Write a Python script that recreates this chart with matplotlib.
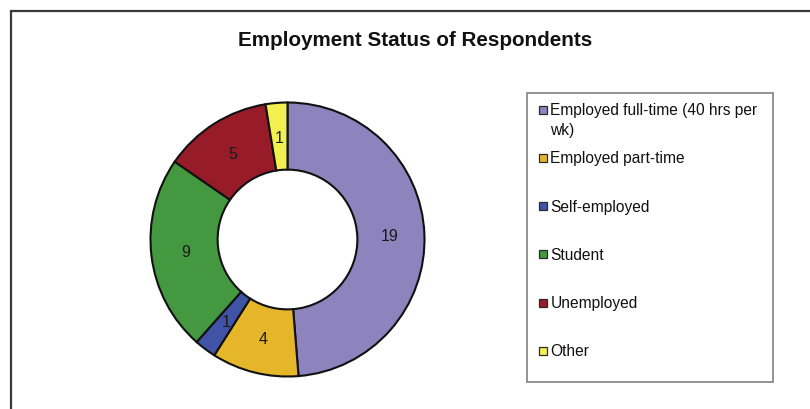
import textwrap
import matplotlib
matplotlib.use("Agg")
import matplotlib.pyplot as plt
from matplotlib.patches import Rectangle

plt.rcParams["font.family"] = ["Liberation Sans", "DejaVu Sans"]

# Survey responses
title = "Employment Status of Respondents"
categories = [
    "Employed full-time (40 hrs per wk)",
    "Employed part-time",
    "Self-employed",
    "Student",
    "Unemployed",
    "Other",
]
counts = [19, 4, 1, 9, 5, 1]
colors = ["#8D83BD", "#E6B62A", "#4153A6", "#44983F", "#981B2A", "#F2F04E"]

W, H = 810, 410
fig = plt.figure(figsize=(W / 100, H / 100), dpi=100)
fig.patch.set_facecolor("white")

# Overlay in pixel coordinates for frame, title and legend
ov = fig.add_axes([0, 0, 1, 1])
ov.set_xlim(0, W)
ov.set_ylim(H, 0)
ov.axis("off")

# Chart area frame (left and top edges visible)
ov.plot([11, 11, W + 5], [H + 5, 12, 12], color="#3a3a3a", lw=1.6,
        solid_joinstyle="miter", clip_on=False)

ov.text(415.5, 41, title, ha="center", va="center",
        fontsize=14.9, fontweight="bold", color="#111111")

# Donut
cx, cy, R = 287.5, 240.5, 137.0
ax = fig.add_axes([(cx - R) / W, (H - cy - R) / H, 2 * R / W, 2 * R / H])
total = sum(counts)
wedges, texts, autotexts = ax.pie(
    counts,
    colors=colors,
    startangle=90,
    counterclock=False,
    radius=1.0,
    autopct=lambda p: f"{round(p * total / 100)}",
    pctdistance=0.745,
    wedgeprops=dict(width=0.49, edgecolor="#111111", linewidth=1.5),
    textprops=dict(fontsize=11.5, color="#1a1a1a"),
)
ax.set_xlim(-1.0, 1.0)
ax.set_ylim(-1.0, 1.0)
ax.set_aspect("equal")
ax.axis("off")

# Legend
ov.add_patch(Rectangle((527, 94), 246, 289, facecolor="white",
                       edgecolor="#8a8a8a", lw=1.3, zorder=2))
y0, step, line_px = 110.5, 48.3, 20.0
for i, (label, col) in enumerate(zip(categories, colors)):
    y = y0 + i * step
    ov.add_patch(Rectangle((538.5, y - 4), 8, 8, facecolor=col,
                           edgecolor="#2a2a2a", lw=0.9, zorder=3))
    for j, line in enumerate(textwrap.wrap(label, 30)):
        ov.text(550.5, y + j * line_px, line, ha="left", va="center",
                fontsize=11.2, color="#111111", zorder=4)

fig.savefig("out.png", dpi=100, facecolor="white")
